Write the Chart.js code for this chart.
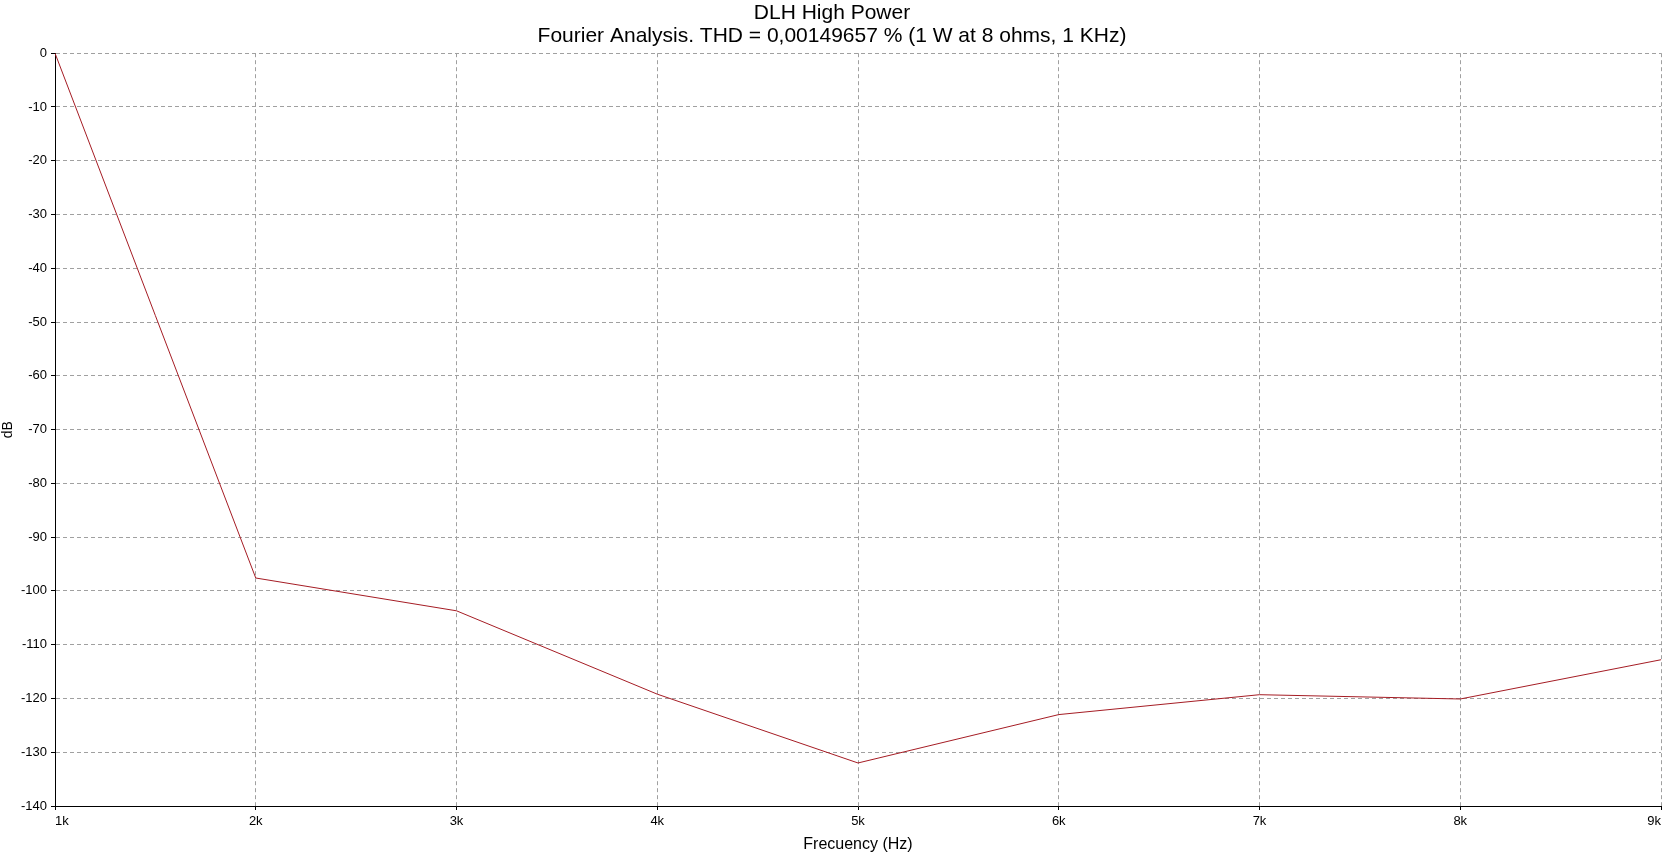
<!DOCTYPE html>
<html>
<head>
<meta charset="utf-8">
<script src="https://cdn.jsdelivr.net/npm/chart.js@4/dist/chart.umd.min.js"></script>
<style>
html,body{margin:0;padding:0;background:#fff;}
#c{display:block;}
</style>
</head>
<body>
<canvas id="c" width="1665" height="855"></canvas>
<script>
const titleLines = ['DLH High Power', 'Fourier Analysis. THD = 0,00149657 % (1 W at 8 ohms, 1 KHz)'];
const frequencies = [1000, 2000, 3000, 4000, 5000, 6000, 7000, 8000, 9000];
const levelsDb = [0, -97.6, -103.7, -119.2, -132.0, -123.0, -119.3, -120.1, -112.8];
const xTitle = 'Frecuency (Hz)';
const yTitle = 'dB';

const FONT = "'Liberation Sans', Arial, sans-serif";
const gridColor = '#a0a0a0';

new Chart(document.getElementById('c'), {
  type: 'line',
  data: {
    datasets: [{
      data: frequencies.map((f, i) => ({x: f, y: levelsDb[i]})),
      borderColor: '#a51c24',
      borderWidth: 1,
      pointRadius: 0,
      tension: 0,
      fill: false
    }]
  },
  options: {
    responsive: false,
    animation: false,
    events: [],
    layout: {padding: {left: 0, right: 1, top: 0, bottom: 0}},
    plugins: {
      legend: {display: false},
      tooltip: {enabled: false},
      title: {
        display: true,
        text: titleLines,
        color: '#000',
        font: {family: FONT, size: 21, weight: 'normal', lineHeight: 1.1},
        padding: {top: 2, bottom: 5}
      }
    },
    scales: {
      x: {
        type: 'linear',
        min: 1000,
        max: 9000,
        afterFit: s => { s.height = 49; },
        ticks: {
          stepSize: 1000,
          align: 'inner',
          maxRotation: 0,
          autoSkip: false,
          color: '#000',
          padding: 4,
          font: {family: FONT, size: 13}
          ,callback: v => (v / 1000) + 'k'
        },
        grid: {
          color: gridColor,
          lineWidth: 1,
          tickLength: 4,
          tickColor: '#000'
        },
        border: {display: true, color: '#000', width: 1, dash: [4, 3]},
        title: {
          display: true,
          text: xTitle,
          color: '#000',
          font: {family: FONT, size: 16},
          padding: {top: 0, bottom: 1}
        }
      },
      y: {
        type: 'linear',
        min: -140,
        max: 0,
        afterFit: s => { s.width = 55; },
        ticks: {
          stepSize: 10,
          autoSkip: false,
          color: '#000',
          padding: 4,
          font: {family: FONT, size: 13}
        },
        grid: {
          color: gridColor,
          lineWidth: 1,
          tickLength: 4,
          tickColor: '#000'
        },
        border: {display: true, color: '#000', width: 1, dash: [4, 3]},
        title: {
          display: true,
          text: yTitle,
          color: '#000',
          font: {family: FONT, size: 14},
          padding: {top: 0, bottom: 0}
        }
      }
    }
  }
});
</script>
</body>
</html>
